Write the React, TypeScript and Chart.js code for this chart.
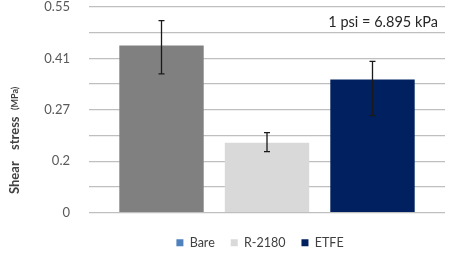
import React, { useEffect, useRef } from "react";
import { Chart, registerables } from "chart.js";

Chart.register(...registerables);

const categories = [""];
const seriesNames = ["Bare", "R-2180", "ETFE"];
const seriesValues = [6.5, 2.72, 5.18];
const errorLow = [5.4, 2.37, 3.77];
const errorHigh = [7.47, 3.11, 5.88];
const tickLabels = ["0", "", "0.2", "", "0.27", "", "0.41", "", "0.55"];
const barColors = ["#808080", "#d9d9d9", "#002060"];
const legendColors = ["#4f81bd", "#d9d9d9", "#002060"];
const noteText = "1 psi = 6.895 kPa";
const yTitleWords = ["Shear", "stress"];
const yTitleUnit = "(MPa)";

const FONT = "Lato, 'Open Sans', sans-serif";

const extrasPlugin = {
  id: "extras",
  afterLayout(chart: any) {
    const lg = chart.legend;
    if (lg) {
      lg.left -= 7;
      lg.right -= 7;
    }
  },
  afterDatasetsDraw(chart: any) {
    const ctx = chart.ctx;
    const y = chart.scales.y;
    ctx.save();
    ctx.strokeStyle = "#1a1a1a";
    ctx.lineWidth = 1.3;
    chart.data.datasets.forEach((ds: any, i: number) => {
      const meta = chart.getDatasetMeta(i);
      const el = meta.data[0];
      if (!el) return;
      const x = el.x;
      const yTop = y.getPixelForValue(errorHigh[i]);
      const yBot = y.getPixelForValue(errorLow[i]);
      const cap = 3;
      ctx.beginPath();
      ctx.moveTo(x, yTop);
      ctx.lineTo(x, yBot);
      ctx.moveTo(x - cap, yTop);
      ctx.lineTo(x + cap, yTop);
      ctx.moveTo(x - cap, yBot);
      ctx.lineTo(x + cap, yBot);
      ctx.stroke();
    });
    ctx.restore();
  },
  afterDraw(chart: any) {
    const ctx = chart.ctx;
    ctx.save();
    ctx.fillStyle = "#262626";
    ctx.font = `14.5px ${FONT}`;
    ctx.textAlign = "right";
    ctx.textBaseline = "middle";
    ctx.fillText(noteText, 438, 22);
    // y title
    ctx.translate(15, 194);
    ctx.rotate(-Math.PI / 2);
    ctx.textAlign = "left";
    ctx.fillStyle = "#404040";
    ctx.font = `bold 13px ${FONT}`;
    ctx.fillText(yTitleWords[0], 0, 0);
    ctx.fillText(yTitleWords[1], 44, 0);
    ctx.font = `bold 9px ${FONT}`;
    ctx.fillText(yTitleUnit, 84, 0);
    ctx.restore();
  },
};

export default function App() {
  const ref = useRef<HTMLCanvasElement>(null);
  useEffect(() => {
    if (!ref.current) return;
    const chart = new Chart(ref.current, {
      type: "bar",
      data: {
        labels: categories,
        datasets: seriesNames.map((name, i) => ({
          label: name,
          data: [seriesValues[i]],
          backgroundColor: barColors[i],
          borderWidth: 0,
          categoryPercentage: 0.889,
          barPercentage: 0.8,
        })),
      },
      options: {
        animation: false,
        responsive: false,
        maintainAspectRatio: false,
        layout: { padding: { left: 0, right: 6, top: 7, bottom: -2 } },
        plugins: {
          legend: {
            position: "bottom",
            fullSize: false,
            labels: {
              boxWidth: 7,
              boxHeight: 7,
              padding: 16,
              color: "#404040",
              font: { family: FONT, size: 12.5 },
              generateLabels: () =>
                seriesNames.map((n, i) => ({
                  text: n,
                  fillStyle: legendColors[i],
                  strokeStyle: legendColors[i],
                  lineWidth: 0,
                  hidden: false,
                  datasetIndex: i,
                  fontColor: "#404040",
                })),
            },
          },
          tooltip: { enabled: false },
        },
        scales: {
          x: {
            ticks: { display: false },
            grid: { display: false },
            border: { display: false },
          },
          y: {
            min: 0,
            max: 8,
            afterFit: (s: any) => {
              s.width = 89;
              s.paddingTop = 0;
              s.paddingBottom = 0;
            },
            ticks: {
              stepSize: 1,
              padding: 19,
              color: "#595959",
              font: { family: FONT, size: 13 },
              callback: (v: any) => tickLabels[Math.round(Number(v))] ?? "",
            },
            grid: { color: "#bfbfbf", lineWidth: 1.2, drawTicks: false },
            border: { display: false },
          },
        },
      },
      plugins: [extrasPlugin],
    } as any);
    return () => chart.destroy();
  }, []);
  return (
    <div style={{ position: "fixed", left: 0, top: 0, width: 451, height: 257, background: "#fff" }}>
      <canvas ref={ref} width={451} height={257} style={{ width: 451, height: 257 }} />
    </div>
  );
}
